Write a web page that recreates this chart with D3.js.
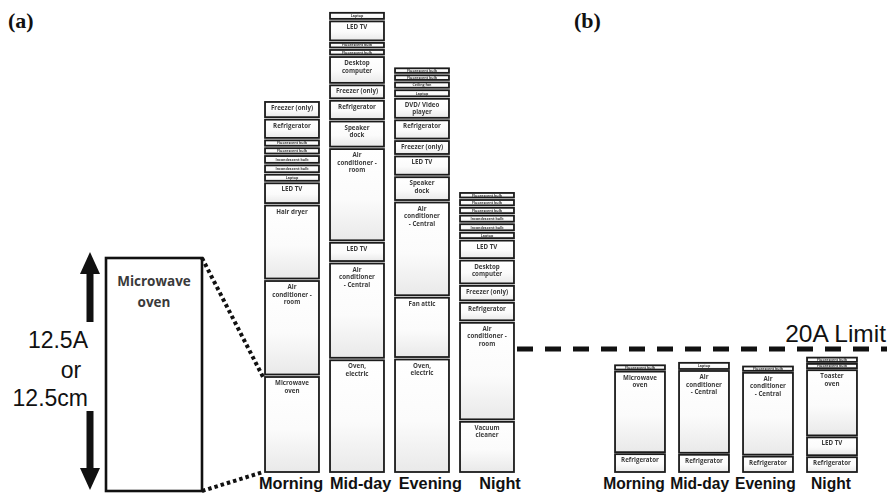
<!DOCTYPE html>
<html>
<head>
<meta charset="utf-8">
<script src="https://cdn.jsdelivr.net/npm/d3@7"></script>
<style>
  html, body { margin: 0; padding: 0; background: #fff; }
  svg { display: block; }
</style>
</head>
<body>
<svg id="chart" width="887" height="498"></svg>
<script>
// Times of day shown along both panels
const periods = ["Morning", "Mid-day", "Evening", "Night"];

// Panel (a): appliance loads per period, listed bottom to top, in amps
const morningLoads = [
  ["Microwave\noven", 12.5],
  ["Air\nconditioner -\nroom", 12.3],
  ["Hair dryer", 9.6],
  ["LED TV", 2.6],
  ["Laptop", 0.8],
  ["Incandescent bulb", 0.9],
  ["Incandescent bulb", 0.9],
  ["Fluorescent bulb", 0.7],
  ["Fluorescent bulb", 0.7],
  ["Refrigerator", 2.4],
  ["Freezer (only)", 2.0]
];
const middayLoads = [
  ["Oven,\nelectric", 14.7],
  ["Air\nconditioner\n- Central", 12.4],
  ["LED TV", 2.4],
  ["Air\nconditioner -\nroom", 12.0],
  ["Speaker\ndock", 3.3],
  ["Refrigerator", 2.4],
  ["Freezer (only)", 1.7],
  ["Desktop\ncomputer", 3.4],
  ["Fluorescent bulb", 0.6],
  ["Fluorescent bulb", 0.6],
  ["LED TV", 2.5],
  ["Laptop", 0.8]
];
const eveningLoads = [
  ["Oven,\nelectric", 14.8],
  ["Fan attic", 7.8],
  ["Air\nconditioner\n- Central", 12.2],
  ["Speaker\ndock", 3.0],
  ["LED TV", 2.4],
  ["Freezer (only)", 1.7],
  ["Refrigerator", 2.4],
  ["DVD/ Video\nplayer", 2.5],
  ["Laptop", 0.8],
  ["Ceiling fan", 0.7],
  ["Fluorescent bulb", 0.6],
  ["Fluorescent bulb", 0.6]
];
const nightLoads = [
  ["Vacuum\ncleaner", 6.6],
  ["Air\nconditioner -\nroom", 12.7],
  ["Refrigerator", 2.3],
  ["Freezer (only)", 1.9],
  ["Desktop\ncomputer", 3.0],
  ["LED TV", 2.3],
  ["Laptop", 0.7],
  ["Incandescent bulb", 0.8],
  ["Incandescent bulb", 0.8],
  ["Fluorescent bulb", 0.7],
  ["Fluorescent bulb", 0.7],
  ["Fluorescent bulb", 0.6]
];

// Panel (b): rescheduled loads that stay under the circuit limit
const morningLimited = [
  ["Refrigerator", 2.9],
  ["Microwave\noven", 13.1],
  ["Fluorescent bulb", 0.7]
];
const middayLimited = [
  ["Refrigerator", 2.8],
  ["Air\nconditioner\n- Central", 13.3],
  ["Laptop", 1.0]
];
const eveningLimited = [
  ["Refrigerator", 2.5],
  ["Air\nconditioner\n- Central", 13.3],
  ["Fluorescent bulb", 0.7]
];
const nightLimited = [
  ["Refrigerator", 2.4],
  ["LED TV", 2.9],
  ["Toaster\noven", 10.6],
  ["Fluorescent bulb", 0.7],
  ["Fluorescent bulb", 0.7]
];

// Circuit limit and the single-card scale annotation
const circuitLimit = 20;
const limitLabel = "20A Limit";
const calloutAmps = 12.5;
const calloutLines = ["12.5A", "or", "12.5cm"];

const panelA = [morningLoads, middayLoads, eveningLoads, nightLoads];
const panelB = [morningLimited, middayLimited, eveningLimited, nightLimited];

const svg = d3.select("#chart");

const defs = svg.append("defs");
const grad = defs.append("linearGradient")
  .attr("id", "paper").attr("x1", 0).attr("y1", 0).attr("x2", 0).attr("y2", 1);
grad.append("stop").attr("offset", "0%").attr("stop-color", "#ffffff");
grad.append("stop").attr("offset", "55%").attr("stop-color", "#fbfbfb");
grad.append("stop").attr("offset", "100%").attr("stop-color", "#e9e9e9");
const soft = defs.append("filter").attr("id", "soft");
soft.append("feGaussianBlur").attr("stdDeviation", 0.3);

// Scales for each panel
const xA = d3.scaleBand().domain(periods).range([259.5, 519.5]).paddingInner(0.17).paddingOuter(0.085);
const yA = d3.scaleLinear().domain([0, 60]).range([472, 16]);
const labelXA = d3.scalePoint().domain(periods).range([291, 500]);

const xB = d3.scaleBand().domain(periods).range([608, 864]).paddingInner(0.22).paddingOuter(0.11);
const yB = d3.scaleLinear().domain([0, circuitLimit]).range([472, 349]);
const labelXB = d3.scalePoint().domain(periods).range([634, 831]);

function stackCards(loads, gap) {
  let cum = 0;
  return loads.map((d, i) => {
    const c = { name: d[0], amps: d[1], lo: cum, hi: cum + d[1], idx: i, gap };
    cum += d[1];
    return c;
  });
}

function drawPanel(data, x, y, gap, labelX, labelSize) {
  const g = svg.append("g");
  periods.forEach((p, pi) => {
    const cards = stackCards(data[pi], gap);
    const col = g.append("g");
    const card = col.selectAll("g.card").data(cards).join("g").attr("class", "card");
    card.append("rect")
      .attr("x", x(p))
      .attr("width", x.bandwidth())
      .attr("y", d => y(d.hi) - d.idx * d.gap)
      .attr("height", d => y(d.lo) - y(d.hi))
      .attr("fill", "url(#paper)")
      .attr("stroke", "#1b1b1b")
      .attr("stroke-width", 1.8);
    card.each(function(d) {
      const top = y(d.hi) - d.idx * d.gap;
      const h = y(d.lo) - y(d.hi);
      const cx = x(p) + x.bandwidth() / 2;
      const lines = d.name.split("\n");
      const small = h < 9;
      const fs = small ? 3.6 : 6.2;
      const t = d3.select(this).append("text")
        .attr("text-anchor", "middle")
        .attr("font-family", "'Open Sans', sans-serif")
        .attr("font-weight", 700)
        .attr("font-size", fs)
        .attr("fill", "#3a3a3a")
        .attr("filter", "url(#soft)");
      lines.forEach((ln, li) => {
        t.append("tspan")
          .attr("x", cx)
          .attr("y", small ? top + h / 2 + 1.3 : top + 8 + li * 7.6)
          .text(ln);
      });
    });
  });
  g.selectAll("text.period").data(periods).join("text")
    .attr("class", "period")
    .attr("x", d => labelX(d))
    .attr("y", 489)
    .attr("text-anchor", "middle")
    .attr("font-family", "'Liberation Sans', Arial, sans-serif")
    .attr("font-weight", 700)
    .attr("font-size", labelSize)
    .attr("fill", "#111")
    .text(d => d);
}

drawPanel(panelA, xA, yA, 2.5, labelXA, 16.3);
drawPanel(panelB, xB, yB, 2, labelXB, 15.6);

// Panel tags
svg.append("text").attr("x", 8).attr("y", 28)
  .attr("font-family", "'Liberation Serif', 'Times New Roman', serif")
  .attr("font-weight", 700).attr("font-size", 22).attr("fill", "#111").text("(a)");
svg.append("text").attr("x", 574).attr("y", 28)
  .attr("font-family", "'Liberation Serif', 'Times New Roman', serif")
  .attr("font-weight", 700).attr("font-size", 22).attr("fill", "#111").text("(b)");

// Enlarged single card used to show the length scale
const calloutScale = d3.scaleLinear().domain([0, calloutAmps]).range([491, 258]);
const cardL = 106, cardR = 202;
svg.append("rect")
  .attr("x", cardL).attr("y", calloutScale(calloutAmps))
  .attr("width", cardR - cardL)
  .attr("height", calloutScale(0) - calloutScale(calloutAmps))
  .attr("fill", "#fff").attr("stroke", "#111").attr("stroke-width", 2.6);
const calloutText = svg.append("text")
  .attr("text-anchor", "middle")
  .attr("font-family", "'Open Sans', sans-serif")
  .attr("font-weight", 700).attr("font-size", 13.5).attr("fill", "#3a3a3a");
calloutText.append("tspan").attr("x", (cardL + cardR) / 2).attr("y", 286).text("Microwave");
calloutText.append("tspan").attr("x", (cardL + cardR) / 2).attr("y", 307).text("oven");

// Dotted leader lines to the microwave card in the morning column
const mw = stackCards(morningLoads, 2.5)[0];
const mwLeft = xA("Morning") - 2;
svg.append("line")
  .attr("x1", cardR).attr("y1", calloutScale(calloutAmps))
  .attr("x2", mwLeft).attr("y2", yA(mw.hi))
  .attr("stroke", "#111").attr("stroke-width", 4).attr("stroke-dasharray", "3.5,3");
svg.append("line")
  .attr("x1", cardR).attr("y1", calloutScale(0))
  .attr("x2", mwLeft).attr("y2", yA(mw.lo))
  .attr("stroke", "#111").attr("stroke-width", 4).attr("stroke-dasharray", "3.5,3");

// Double-headed dimension arrow
const ax = 90;
const arrowTop = calloutScale(calloutAmps) - 6, arrowBot = calloutScale(0) - 1;
svg.append("path")
  .attr("d", `M${ax},${arrowTop} L${ax + 10},${arrowTop + 22} L${ax - 10},${arrowTop + 22} Z`)
  .attr("fill", "#111");
svg.append("rect").attr("x", ax - 3.5).attr("y", arrowTop + 20).attr("width", 7).attr("height", 50).attr("fill", "#111");
svg.append("path")
  .attr("d", `M${ax},${arrowBot} L${ax + 10},${arrowBot - 22} L${ax - 10},${arrowBot - 22} Z`)
  .attr("fill", "#111");
svg.append("rect").attr("x", ax - 3.5).attr("y", arrowBot - 79).attr("width", 7).attr("height", 59).attr("fill", "#111");

const dimText = svg.append("g")
  .attr("font-family", "'Liberation Sans', Arial, sans-serif")
  .attr("font-size", 23).attr("fill", "#111");
dimText.append("text").attr("x", 88).attr("y", 348).attr("text-anchor", "end").text(calloutLines[0]);
dimText.append("text").attr("x", 71).attr("y", 378).attr("text-anchor", "middle").text(calloutLines[1]);
dimText.append("text").attr("x", 88).attr("y", 406).attr("text-anchor", "end").text(calloutLines[2]);

// Circuit limit line across panel (b)
svg.append("line")
  .attr("x1", 517).attr("x2", 887)
  .attr("y1", yB(circuitLimit)).attr("y2", yB(circuitLimit))
  .attr("stroke", "#111").attr("stroke-width", 5).attr("stroke-dasharray", "16,12");
svg.append("text")
  .attr("x", 886).attr("y", yB(circuitLimit) - 7)
  .attr("text-anchor", "end")
  .attr("font-family", "'Liberation Sans', Arial, sans-serif")
  .attr("font-size", 24.5).attr("fill", "#111")
  .text(limitLabel);
</script>
</body>
</html>
